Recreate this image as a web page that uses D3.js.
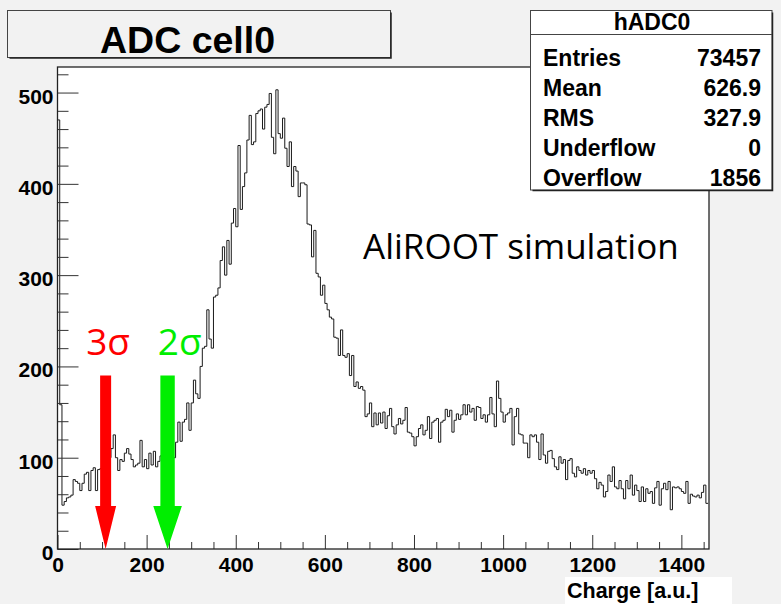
<!DOCTYPE html>
<html>
<head>
<meta charset="utf-8">
<script src="https://cdn.jsdelivr.net/npm/d3@7/dist/d3.min.js"></script>
<style>
  html, body { margin: 0; padding: 0; background: #f2f2f2; }
  svg { display: block; }
</style>
</head>
<body>
<svg id="chart" width="781" height="604"></svg>
<script>
// ---------------- data ----------------
const histTitle = "ADC cell0";
const histName = "hADC0";
const xAxisTitle = "Charge [a.u.]";
const annotation = "AliROOT simulation";
const binStart = 0;
const binWidth = 5;
const xRange = [0, 1462];
const yRange = [0, 528];
const xMajorTicks = [0, 200, 400, 600, 800, 1000, 1200, 1400];
const yMajorTicks = [0, 100, 200, 300, 400, 500];
const xMinorStep = 50;
const yMinorStep = 20;
const statLabels = ["Entries", "Mean", "RMS", "Underflow", "Overflow"];
const statValues = ["73457", "626.9", "327.9", "0", "1856"];
const cutLabels = ["3σ", "2σ"];
const cutPositions = [108, 247];
const cutArrowTop = 190;
const counts = [
  470, 158, 48, 52, 56, 57, 59, 76, 74, 72,
  64, 72, 82, 84, 64, 86, 89, 64, 87, 88,
  92, 96, 98, 100, 110, 125, 100, 86, 98, 96,
  105, 110, 104, 98, 90, 92, 94, 119, 90, 98,
  88, 105, 92, 107, 90, 96, 102, 100, 104, 98,
  106, 104, 100, 117, 139, 118, 139, 142, 160, 130,
  160, 185, 170, 165, 200, 220, 222, 262, 230, 220,
  276, 278, 286, 316, 331, 300, 338, 312, 357, 373,
  353, 442, 372, 397, 412, 448, 475, 443, 446, 477,
  480, 482, 460, 484, 487, 499, 451, 433, 503, 455,
  450, 472, 439, 419, 446, 397, 419, 414, 386, 401,
  401, 399, 356, 355, 320, 349, 302, 298, 278, 289,
  269, 262, 254, 252, 232, 231, 212, 240, 212, 210,
  214, 190, 212, 178, 183, 176, 178, 174, 145, 148,
  160, 134, 149, 136, 149, 138, 150, 132, 146, 154,
  134, 126, 136, 143, 137, 141, 155, 128, 127, 123,
  113, 123, 132, 136, 125, 130, 145, 121, 139, 141,
  143, 117, 139, 141, 153, 145, 152, 128, 141, 148,
  142, 147, 158, 147, 158, 150, 154, 141, 156, 155,
  143, 147, 139, 147, 166, 148, 134, 184, 165, 150,
  139, 147, 149, 154, 114, 145, 154, 126, 125, 116,
  116, 100, 125, 123, 125, 117, 98, 126, 103, 94,
  107, 108, 99, 90, 87, 101, 94, 98, 76, 97,
  99, 83, 79, 90, 86, 83, 88, 81, 86, 83,
  86, 77, 66, 73, 70, 57, 63, 81, 74, 90,
  68, 66, 75, 66, 55, 75, 66, 81, 59, 70,
  64, 52, 68, 52, 66, 61, 63, 50, 67, 74,
  48, 66, 72, 65, 74, 43, 68, 67, 68, 66,
  63, 61, 74, 50, 60, 58, 57, 59, 56, 62, 70, 50
];

// ---------------- drawing ----------------
const svg = d3.select("#chart");
const W = 781, H = 604;
const frame = { left: 57.5, right: 709, top: 67, bottom: 549 };
const boldFont = "'Liberation Sans', Arial, Helvetica, sans-serif";
const textFont = "'Open Sans', 'Noto Sans', 'DejaVu Sans', sans-serif";

svg.append("rect").attr("x", 0).attr("y", 0).attr("width", W).attr("height", H).attr("fill", "#f2f2f2");

const x = d3.scaleLinear().domain(xRange).range([frame.left, frame.right]);
const y = d3.scaleLinear().domain(yRange).range([frame.bottom, frame.top]);

// plot area
svg.append("rect")
  .attr("x", frame.left).attr("y", frame.top)
  .attr("width", frame.right - frame.left).attr("height", frame.bottom - frame.top)
  .attr("fill", "#ffffff");

// histogram
const pts = [{ u: binStart, v: 0 }];
counts.forEach((c, i) => {
  const lo = binStart + i * binWidth, hi = lo + binWidth;
  pts.push({ u: lo, v: c }, { u: Math.min(hi, xRange[1]), v: c });
});
svg.append("path")
  .datum(pts)
  .attr("fill", "none")
  .attr("stroke", "#1a1a1a")
  .attr("stroke-width", 1)
  .attr("d", d3.line().x(d => x(d.u)).y(d => y(d.v)));

// axes: minor ticks
const xMinor = d3.range(xRange[0], xRange[1] + 0.001, xMinorStep).filter(v => !xMajorTicks.includes(v));
const yMinor = d3.range(yRange[0], yRange[1] + 0.001, yMinorStep).filter(v => !yMajorTicks.includes(v));

const gxMinor = svg.append("g").attr("transform", `translate(0,${frame.bottom})`)
  .call(d3.axisBottom(x).tickValues(xMinor).tickSize(-7).tickFormat(""));
const gyMinor = svg.append("g").attr("transform", `translate(${frame.left},0)`)
  .call(d3.axisLeft(y).tickValues(yMinor).tickSize(-11).tickFormat(""));

const gx = svg.append("g").attr("transform", `translate(0,${frame.bottom})`)
  .call(d3.axisBottom(x).tickValues(xMajorTicks).tickSize(-14).tickPadding(8).tickFormat(d3.format("d")));
const gy = svg.append("g").attr("transform", `translate(${frame.left},0)`)
  .call(d3.axisLeft(y).tickValues(yMajorTicks).tickSize(-21).tickPadding(4).tickFormat(d3.format("d")));

[gxMinor, gyMinor, gx, gy].forEach(g => {
  g.select(".domain").remove();
  g.selectAll(".tick line").attr("stroke", "#333").attr("stroke-width", 1);
});
[gx, gy].forEach(g => {
  g.selectAll(".tick text")
    .attr("fill", "#000")
    .style("font-family", boldFont)
    .style("font-weight", "bold")
    .style("font-size", "21px");
});
gy.selectAll(".tick text").attr("dy", "0.5em");

// frame
svg.append("rect")
  .attr("x", frame.left).attr("y", frame.top)
  .attr("width", frame.right - frame.left).attr("height", frame.bottom - frame.top)
  .attr("fill", "none").attr("stroke", "#222").attr("stroke-width", 1.3);

// x axis title with white background
const xt = svg.append("g");
xt.append("rect").attr("x", 565).attr("y", 577).attr("width", 167).attr("height", 27).attr("fill", "#ffffff");
xt.append("text").attr("x", 567).attr("y", 598)
  .style("font-family", boldFont).style("font-weight", "bold").style("font-size", "21.5px")
  .text(xAxisTitle);

// annotation
svg.append("text").attr("x", 363).attr("y", 259)
  .style("font-family", textFont).style("font-size", "35px").attr("fill", "#000")
  .text(annotation);

// cut arrows
const cutColors = ["#ff0000", "#00ee00"];
const shaftHalf = [5.5, 7.2];
const headHalf = [10.5, 14.3];
const headLen = 43;
const labelOffsets = [-19.5, -9.7];
cutPositions.forEach((u, i) => {
  const cx = x(u), top = y(cutArrowTop), tip = y(0);
  const hb = tip - headLen;
  const poly = [
    [cx - shaftHalf[i], top], [cx + shaftHalf[i], top], [cx + shaftHalf[i], hb],
    [cx + headHalf[i], hb], [cx, tip], [cx - headHalf[i], hb], [cx - shaftHalf[i], hb]
  ];
  svg.append("polygon").attr("points", poly.map(p => p.join(",")).join(" ")).attr("fill", cutColors[i]);
  svg.append("text").attr("x", cx + labelOffsets[i]).attr("y", 355)
    .style("font-family", textFont).style("font-size", "37px").attr("fill", cutColors[i])
    .text(cutLabels[i]);
});

// title box
function paveBox(x0, y0, x1, y1, fill) {
  const g = svg.append("g");
  g.append("rect").attr("x", x0).attr("y", y0).attr("width", x1 - x0).attr("height", y1 - y0)
    .attr("fill", fill).attr("stroke", "#444").attr("stroke-width", 1);
  g.append("path").attr("d", `M${x1 + 0.5},${y0 + 2}V${y1 + 0.5}H${x0 + 2}`)
    .attr("fill", "none").attr("stroke", "#222").attr("stroke-width", 1.5);
  return g;
}
const tb = paveBox(7.5, 10.5, 390.5, 57.5, "#f2f2f2");
tb.append("text").attr("x", 100).attr("y", 53)
  .style("font-family", boldFont).style("font-weight", "bold").style("font-size", "37.5px")
  .text(histTitle);

// stats box
const sb = paveBox(530.5, 10.5, 772, 190, "#ffffff");
sb.append("line").attr("x1", 530.5).attr("x2", 772).attr("y1", 34.5).attr("y2", 34.5)
  .attr("stroke", "#444").attr("stroke-width", 1);
sb.append("text").attr("x", 652).attr("y", 30).attr("text-anchor", "middle")
  .style("font-family", boldFont).style("font-weight", "bold").style("font-size", "23px")
  .text(histName);
statLabels.forEach((lab, i) => {
  const by = 66 + i * 30;
  sb.append("text").attr("x", 543).attr("y", by)
    .style("font-family", boldFont).style("font-weight", "bold").style("font-size", "23px").text(lab);
  sb.append("text").attr("x", 761).attr("y", by).attr("text-anchor", "end")
    .style("font-family", boldFont).style("font-weight", "bold").style("font-size", "23px").text(statValues[i]);
});
</script>
</body>
</html>
